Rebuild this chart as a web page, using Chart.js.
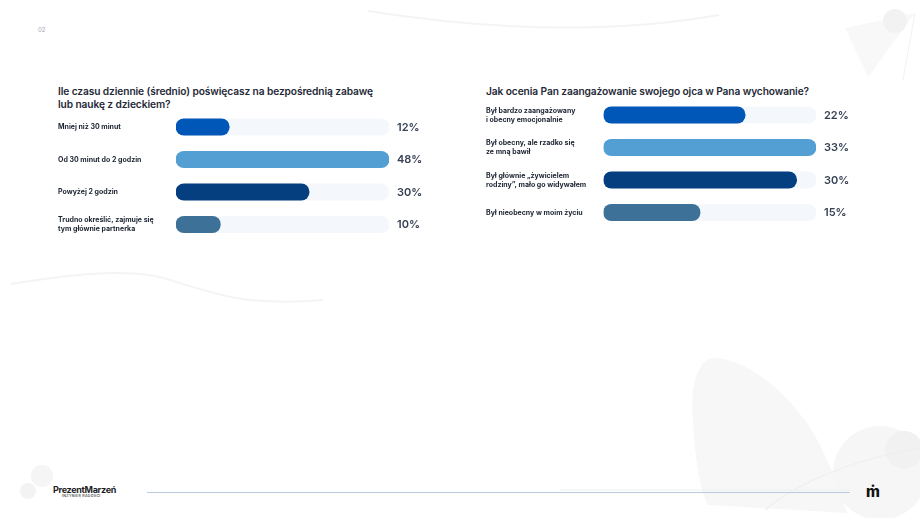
<!DOCTYPE html>
<html lang="pl">
<head>
<meta charset="utf-8">
<script src="https://cdn.jsdelivr.net/npm/chart.js@4.4.1/dist/chart.umd.min.js"></script>
<style>
  html,body{margin:0;padding:0;background:#fff;}
  body{width:920px;height:518px;position:relative;overflow:hidden;font-family:Inter,"Noto Sans",sans-serif;}
  .bg{position:absolute;left:0;top:0;}
  .title{position:absolute;font-size:10.2px;font-weight:600;color:#1f2937;line-height:12.5px;letter-spacing:-0.1px;}
  .box{position:absolute;}
  .pg{position:absolute;left:38px;top:26px;font-size:6px;color:#a0a7af;}
  .logo{position:absolute;left:53px;top:484px;font-size:9px;font-weight:700;color:#1d1d1f;letter-spacing:-0.3px;}
  .logo small{display:block;font-size:3.6px;font-weight:500;letter-spacing:0.3px;margin-left:9px;margin-top:-1px;color:#333;}
  .mark{position:absolute;left:866px;top:482px;font-size:15px;font-weight:800;color:#111;}
</style>
</head>
<body>
<svg class="bg" width="920" height="518" viewBox="0 0 920 518">
  <path d="M368 11 Q565 42 719 15" fill="none" stroke="#f4f4f4" stroke-width="2"/>
  <polygon points="845,28 915,13 868,77" fill="#f8f8f8"/>
  <circle cx="895" cy="21" r="12" fill="#f2f2f2"/>
  <line x1="915" y1="13" x2="903" y2="80" stroke="#f2f2f2" stroke-width="1"/>
  <path d="M11 284 C60 276 130 266 170 280 C220 296 250 306 323 300" fill="none" stroke="#f4f4f4" stroke-width="2"/>
  <path d="M713 358 C740 358 775 380 807 423 C822 445 835 475 847 513 L708 505 C700 490 695 460 693 420 C690 385 698 360 713 358 Z" fill="#f7f7f7"/>
  <circle cx="880" cy="473" r="47" fill="#f6f6f6"/>
  <circle cx="904" cy="450" r="19" fill="#f1f1f1"/>
  <path d="M765 510 C800 480 860 458 920 448" fill="none" stroke="#eeeeee" stroke-width="1.2"/>
  <circle cx="42" cy="476" r="11" fill="#f5f5f5"/>
  <circle cx="28" cy="491" r="8" fill="#f3f3f3"/>
  <line x1="147" y1="492.5" x2="850" y2="492.5" stroke="#b9cde2" stroke-width="1.2"/>
  <line x1="560" y1="490" x2="850" y2="490" stroke="#eeeeee" stroke-width="1"/>
</svg>

<div class="pg">02</div>

<div class="title" style="left:58px;top:85px;width:340px;">Ile czasu dziennie (średnio) poświęcasz na bezpośrednią zabawę<br>lub naukę z dzieckiem?</div>
<div class="title" style="left:486px;top:85px;width:370px;">Jak ocenia Pan zaangażowanie swojego ojca w Pana wychowanie?</div>

<div class="box" style="left:58px;top:110px;width:381px;height:131px;"><canvas id="timeChart"></canvas></div>
<div class="box" style="left:486px;top:98px;width:380px;height:131px;"><canvas id="fatherChart"></canvas></div>

<div class="logo">PrezentMarzeń<small>INŻYNIER RADOŚCI</small></div>
<div class="mark">ṁ</div>

<script>
// Left chart: time spent with child
const timeLabels = [
  "Mniej niż 30 minut",
  "Od 30 minut do 2 godzin",
  "Powyżej 2 godzin",
  ["Trudno określić, zajmuje się", "tym głównie partnerka"]
];
const timeValues = [12, 48, 30, 10];

// Right chart: father's involvement
const fatherLabels = [
  ["Był bardzo zaangażowany", "i obecny emocjonalnie"],
  ["Był obecny, ale rzadko się", "ze mną bawił"],
  ["Był głównie „żywicielem", "rodziny”, mało go widywałem"],
  "Był nieobecny w moim życiu"
];
const fatherValues = [22, 33, 30, 15];

const barColors = ["#0057b8", "#539fd3", "#053f80", "#3e7198"];
const trackColor = "#f4f8fc";

const pctLabels = {
  id: "pctLabels",
  afterDatasetsDraw(chart){
    const ctx = chart.ctx, meta = chart.getDatasetMeta(1);
    const vals = chart.data.datasets[0].data;
    ctx.save();
    ctx.font = "600 11px Inter, 'Noto Sans', sans-serif";
    ctx.fillStyle = "#374255";
    ctx.textAlign = "left";
    ctx.textBaseline = "middle";
    meta.data.forEach((bar,i)=>{
      ctx.fillText(vals[i] + "%", bar.x + 8, bar.y + 0.5);
    });
    ctx.restore();
  }
};

function makeChart(id, labels, values, axisWidth){
  const max = Math.max(...values);
  return new Chart(document.getElementById(id), {
    type: "bar",
    data: {
      labels,
      datasets: [
        { data: values, backgroundColor: barColors, borderRadius: 9, borderSkipped: false, barThickness: 16.5, grouped: false, order: 0 },
        { data: values.map(()=>max), backgroundColor: trackColor, borderRadius: 9, borderSkipped: false, barThickness: 16.5, grouped: false, order: 1 }
      ]
    },
    options: {
      indexAxis: "y",
      responsive: true,
      maintainAspectRatio: false,
      animation: false,
      layout: { padding: { top: 0.75, bottom: 0.25, right: 50, left: 0 } },
      plugins: { legend: { display: false }, tooltip: { enabled: false } },
      scales: {
        x: { display: false, min: 0, max },
        y: {
          grid: { display: false, drawTicks: false },
          border: { display: false },
          afterFit: s => { s.width = axisWidth; s.paddingTop = 0; s.paddingBottom = 0; },
          ticks: {
            crossAlign: "far",
            padding: 0,
            color: "#1b2330",
            font: { family: "Inter, 'Noto Sans', sans-serif", size: 7, weight: "700", lineHeight: 1.3 }
          }
        }
      }
    },
    plugins: [pctLabels]
  });
}

makeChart("timeChart", timeLabels, timeValues, 118);
makeChart("fatherChart", fatherLabels, fatherValues, 117.5);
</script>
</body>
</html>
